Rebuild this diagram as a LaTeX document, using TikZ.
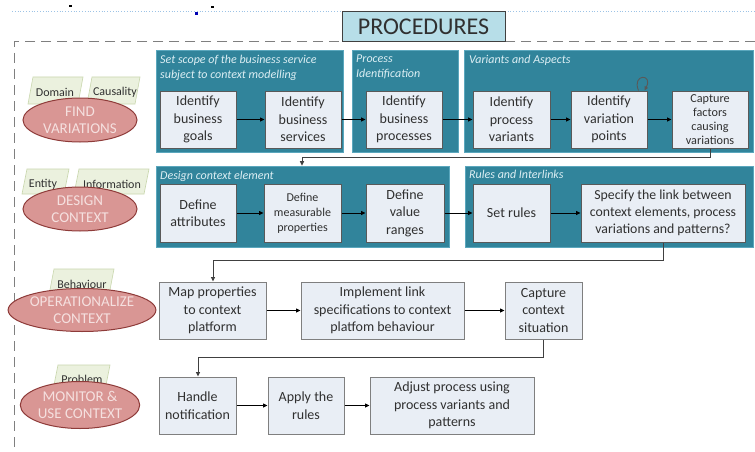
\documentclass[tikz,border=0pt]{standalone}
\usepackage{fontspec}
\setmainfont{Carlito}
\usetikzlibrary{arrows.meta,shapes.geometric}
\definecolor{panelteal}{HTML}{31849B}
\definecolor{paneledge}{HTML}{5BA7BD}
\definecolor{boxfill}{HTML}{E9EEF5}
\definecolor{boxedge}{HTML}{595959}
\definecolor{txt}{HTML}{303030}
\definecolor{lbl}{HTML}{DDEFF4}
\definecolor{ellfill}{HTML}{D99694}
\definecolor{elledge}{HTML}{8E3B39}
\definecolor{elltxt}{HTML}{F5E0DF}
\definecolor{tagfill}{HTML}{EBF1DE}
\definecolor{tagedge}{HTML}{C9D7AE}
\definecolor{procfill}{HTML}{B7DEE8}
\definecolor{dashgray}{HTML}{7F7F7F}
\definecolor{dotblue}{HTML}{9DC3E6}
\definecolor{turngray}{HTML}{404040}
\tikzset{
  panel/.style={fill=panelteal, draw=paneledge, line width=0.6pt},
  pbox/.style={draw=boxedge, fill=boxfill, line width=1pt, align=center, text=txt,
    inner sep=0pt, font=\fontsize{14}{17.5}\selectfont},
  plabel/.style={text=lbl, align=left, inner sep=0pt, font=\fontsize{12}{14.5}\selectfont\itshape},
  arr/.style={draw=black, line width=0.8pt, -{Triangle[length=4.5pt,width=4pt]}},
  turn/.style={draw=turngray, line width=1pt, -{Triangle[length=4.5pt,width=4pt]}},
  ell/.style={ellipse, draw=elledge, fill=ellfill, line width=1pt, align=center, text=elltxt,
    inner sep=0pt, font=\fontsize{15}{17}\selectfont},
  tag/.style={fill=tagfill, draw=tagedge, line width=0.6pt},
  tagtxt/.style={text=txt, inner sep=0pt, font=\fontsize{12}{13}\selectfont},
}
\begin{document}
\begin{tikzpicture}[x=1pt,y=-1pt]
\useasboundingbox (0,0) rectangle (755,452);
\fill[white] (0,0) rectangle (755,452);
% top dotted guide line and marks
\draw[dotblue, dotted, line width=0.8pt] (12,11.5) -- (755,11.5);
\fill[black] (68.5,5) rectangle (72,7.5);
\fill[black] (210.5,6) rectangle (214,8.5);
\fill[blue!70!black] (195,12) rectangle (198,15);
% dashed frame
\draw[dashgray, line width=1.5pt, dash pattern=on 10pt off 6pt] (755,41.5) -- (14.5,41.5) -- (14.5,452);
% title
\node[draw=turngray, fill=procfill, line width=1pt, minimum width=163pt, minimum height=30pt,
  inner sep=0pt, text=txt, font=\fontsize{24}{26}\selectfont] (proc) at (423.5,27) {PROCEDURES};

% panels
\path[panel] (156,50) rectangle (343,152);
\path[panel] (352,50) rectangle (458,152);
\path[panel] (464,50) rectangle (753,152);
\node[panel, minimum width=293pt, minimum height=81pt, inner sep=0pt] (p4) at (302.5,206.5) {};
\path[panel] (465,166) rectangle (753,247);

\node[plabel, anchor=north west] (l1) at (160,55) {Set scope of the business service\\subject to context modelling};
\node[plabel, anchor=north west] (l2) at (356,55) {Process\\Identification};
\node[plabel, anchor=north west] (l3) at (469,55) {Variants and Aspects};
\node[plabel, anchor=north west] (l4) at (160,171) {Design context element};
\node[plabel, anchor=north west] (l5) at (469,170) {Rules and Interlinks};

% row 1
\node[pbox, minimum width=76pt, minimum height=57pt] (bg) at (198,119.5) {Identify\\business\\goals};
\node[pbox, minimum width=76pt, minimum height=57pt] (bs) at (303,119.5) {Identify\\business\\services};
\node[pbox, minimum width=76pt, minimum height=57pt] (bp) at (404,119.5) {Identify\\business\\processes};
\node[pbox, minimum width=77pt, minimum height=57pt] (pv) at (511.5,119.5) {Identify\\process\\variants};
\node[pbox, minimum width=76pt, minimum height=57pt] (vp) at (609,119.5) {Identify\\variation\\points};
\node[pbox, minimum width=76pt, minimum height=57pt, font=\fontsize{12.2}{14}\selectfont] (cf) at (710,119.5) {Capture\\factors\\causing\\variations};
% row 2
\node[pbox, minimum width=76pt, minimum height=58pt] (da) at (198,213) {Define\\attributes};
\node[pbox, minimum width=77pt, minimum height=58pt, font=\fontsize{12}{15}\selectfont] (dm) at (302.5,213) {Define\\measurable\\properties};
\node[pbox, minimum width=78pt, minimum height=58pt] (dv) at (405,213) {Define\\value\\ranges};
\node[pbox, minimum width=77pt, minimum height=58pt] (sr) at (511.5,213) {Set rules};
\node[pbox, minimum width=164pt, minimum height=58pt, font=\fontsize{13.8}{17}\selectfont] (sl) at (663,213) {Specify the link between\\context elements, process\\variations and patterns?};
% row 3
\node[pbox, minimum width=107pt, minimum height=57pt, draw=dashgray] (mp) at (212.5,310.5) {Map properties\\to context\\platform};
\node[pbox, minimum width=163pt, minimum height=57pt, draw=dashgray] (il) at (382.5,310.5) {Implement link\\specifications to context\\platfom behaviour};
\node[pbox, minimum width=77pt, minimum height=57pt, draw=dashgray] (cc) at (543.5,310.5) {Capture\\context\\situation};
% row 4
\node[pbox, minimum width=77pt, minimum height=57pt, draw=dashgray] (hn) at (197.5,405.5) {Handle\\notification};
\node[pbox, minimum width=76pt, minimum height=57pt, draw=dashgray] (ar) at (306,405.5) {Apply the\\rules};
\node[pbox, minimum width=164pt, minimum height=57pt, draw=dashgray] (ap) at (452,405.5) {Adjust process using\\process variants and\\patterns};

% connectors
\draw[arr] (bg) -- (bs);
\draw[arr] (bs) -- (bp);
\draw[arr] (bp) -- (pv);
\draw[arr] (pv) -- (vp);
\draw[arr] (vp) -- (cf);
\draw[arr] (da) -- (dm);
\draw[arr] (dm) -- (dv);
\draw[arr] (dv) -- (sr);
\draw[arr] (sr) -- (sl);
\draw[arr] (mp) -- (il);
\draw[arr] (il) -- (cc);
\draw[arr] (hn) -- (ar);
\draw[arr] (ar) -- (ap);
\draw[draw=boxedge, line width=0.9pt, -{Triangle[length=4pt,width=3.5pt]}]
  ([xshift=-9pt]vp.north east) .. controls +(-7,-17) and +(9,-17) .. ([xshift=-3pt]vp.north east);

\coordinate (t1) at (302,157.5);
\coordinate (t2) at (213,260);
\coordinate (t3) at (198,357.5);
\draw[turn] (cf.south) |- (t1) -- (t1 |- p4.north);
\draw[turn] (sl.south) |- (t2) -- (t2 |- mp.north);
\draw[turn] (cc.south) |- (t3) -- (t3 |- hn.north);

% tags
\path[tag] (28,104) -- (33,77) -- (83,77) -- (78,104) -- cycle;
\path[tag] (87,104) -- (92,77) -- (140,77) -- (135,104) -- cycle;
\path[tag] (22,194) -- (27,169) -- (69,169) -- (64,194) -- cycle;
\path[tag] (74,194) -- (79,169) -- (149,169) -- (144,194) -- cycle;
\path[tag] (49,295) -- (54,269) -- (114,269) -- (109,295) -- cycle;
\path[tag] (53,390) -- (58,365) -- (110,365) -- (105,390) -- cycle;
\node[tagtxt] (tdom) at (55,92) {Domain};
\node[tagtxt] (tcau) at (115,92) {Causality};
\node[tagtxt] (tent) at (43,184) {Entity};
\node[tagtxt] (tinf) at (112,184) {Information};
\node[tagtxt] (tbeh) at (82,284) {Behaviour};
\node[tagtxt] (tpro) at (82,379) {Problem};

% ellipses
\node[ell, minimum width=114pt, minimum height=44pt] (fv) at (80,120) {FIND\\VARIATIONS};
\node[ell, minimum width=114pt, minimum height=44pt] (dc) at (80,209) {DESIGN\\CONTEXT};
\node[ell, minimum width=132pt, minimum height=43pt] (oc) at (82,310) {OPERATIONALIZE\\CONTEXT};
\node[ell, minimum width=114pt, minimum height=47pt] (mu) at (80,405) {MONITOR \&\\USE CONTEXT};
\end{tikzpicture}
\end{document}
